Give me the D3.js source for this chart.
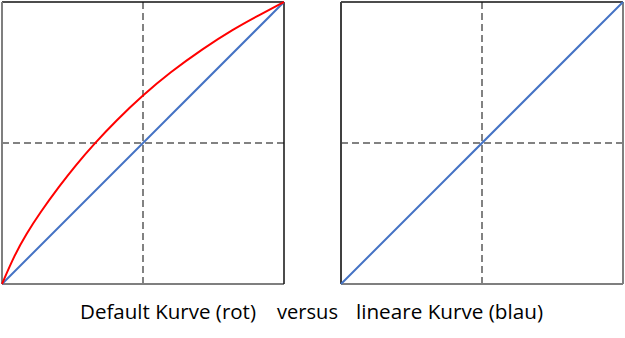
<!DOCTYPE html>
<html>
<head>
<meta charset="utf-8">
<script src="https://cdn.jsdelivr.net/npm/d3@7"></script>
<style>
  body { margin: 0; background: #fff; }
  svg { display: block; }
</style>
</head>
<body>
<div id="chart"></div>
<script>
// values (0..1 on both axes)
const defaultX = [0, 0.045, 0.086, 0.134, 0.204, 0.262, 0.325, 0.405, 0.500, 0.595, 0.713, 0.819, 0.914, 1];
const defaultY = [0, 0.104, 0.177, 0.252, 0.348, 0.422, 0.495, 0.580, 0.670, 0.750, 0.835, 0.903, 0.955, 1];
const linearX = [0, 1];
const linearY = [0, 1];
const guides = [0.5];
const captions = ["Default Kurve (rot)", "versus", "lineare Kurve (blau)"];

const svg = d3.select("#chart").append("svg").attr("width", 625).attr("height", 338);

const size = 282;

function panel(left, top, series, edges) {
  const x = d3.scaleLinear().domain([0, 1]).range([left, left + size]);
  const y = d3.scaleLinear().domain([0, 1]).range([top + size, top]);
  const g = svg.append("g");

  // dashed guides at the middle
  guides.forEach(v => {
    g.append("line")
      .attr("x1", x(v)).attr("x2", x(v))
      .attr("y1", y(0)).attr("y2", y(1))
      .attr("stroke", "#595959").attr("stroke-width", 1.5)
      .attr("stroke-dasharray", "7,4");
    g.append("line")
      .attr("x1", x(0)).attr("x2", x(1))
      .attr("y1", y(v)).attr("y2", y(v))
      .attr("stroke", "#595959").attr("stroke-width", 1.5)
      .attr("stroke-dasharray", "7,4");
  });

  // frame
  g.append("line").attr("x1", x(0)).attr("x2", x(1)).attr("y1", y(1)).attr("y2", y(1))
    .attr("stroke", "#111").attr("stroke-width", 1.3);
  g.append("line").attr("x1", x(0)).attr("x2", x(1)).attr("y1", y(0)).attr("y2", y(0))
    .attr("stroke", "#7f7f7f").attr("stroke-width", 2);
  g.append("line").attr("x1", x(0)).attr("x2", x(0)).attr("y1", y(0)).attr("y2", y(1))
    .attr("stroke", edges[0]).attr("stroke-width", 2);
  g.append("line").attr("x1", x(1)).attr("x2", x(1)).attr("y1", y(0)).attr("y2", y(1))
    .attr("stroke", edges[1]).attr("stroke-width", edges[1] === "#7f7f7f" ? 2 : 1.5);

  series.forEach(s => {
    const pts = s.xs.map((d, i) => [d, s.ys[i]]);
    const line = d3.line()
      .x(d => x(d[0]))
      .y(d => y(d[1]))
      .curve(d3.curveBasis);
    g.append("path")
      .attr("d", line(pts))
      .attr("fill", "none")
      .attr("stroke", s.color)
      .attr("stroke-width", 2);
  });
}

panel(2, 2, [
  { xs: linearX, ys: linearY, color: "#4472c4" },
  { xs: defaultX, ys: defaultY, color: "#ff0000" }
], ["#7f7f7f", "#111"]);

panel(341, 2, [
  { xs: linearX, ys: linearY, color: "#4472c4" }
], ["#404040", "#7f7f7f"]);

// caption
const capX = [80, 277, 356];
const capW = [176, 61, 187];
svg.selectAll("text.cap")
  .data(captions)
  .enter()
  .append("text")
  .attr("class", "cap")
  .attr("x", (d, i) => capX[i])
  .attr("y", 319)
  .attr("textLength", (d, i) => capW[i])
  .attr("lengthAdjust", "spacingAndGlyphs")
  .attr("font-family", "'Open Sans', Lato, sans-serif")
  .attr("font-size", 19.5)
  .attr("fill", "#000")
  .text(d => d);
</script>
</body>
</html>
